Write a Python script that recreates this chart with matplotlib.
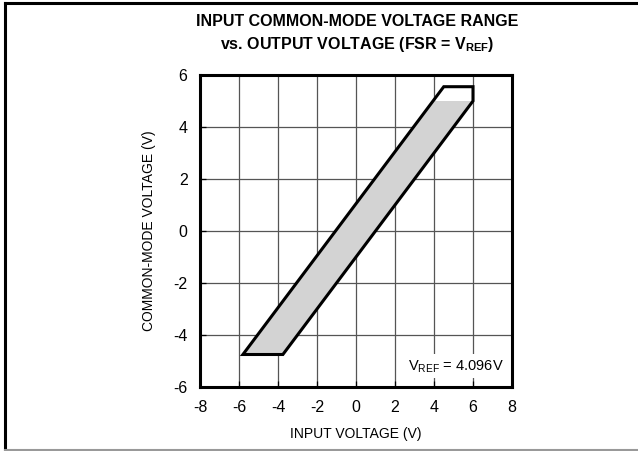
import matplotlib
matplotlib.use("Agg")
import matplotlib.pyplot as plt
from matplotlib.lines import Line2D
from matplotlib.patches import Polygon

plt.rcParams['font.family'] = ['Liberation Sans', 'DejaVu Sans']
plt.rcParams['axes.unicode_minus'] = False
plt.rcParams['mathtext.fontset'] = 'custom'
plt.rcParams['mathtext.rm'] = 'Liberation Sans'
plt.rcParams['mathtext.bf'] = 'Liberation Sans:bold'

# outline of the allowed common-mode region (V)
outline_x = [-5.8, -3.75, 6.0, 6.0, 4.5]
outline_y = [-4.75, -4.75, 5.0, 5.55, 5.55]
# shaded part
fill_x = [-5.8, -3.75, 6.0, 4.0]
fill_y = [-4.75, -4.75, 5.0, 5.0]

xticks = [-8, -6, -4, -2, 0, 2, 4, 6, 8]
yticks = [-6, -4, -2, 0, 2, 4, 6]

fig = plt.figure(figsize=(6.38, 4.51), dpi=100)
ax = fig.add_axes([200 / 638, 1 - 387 / 451, 312 / 638, 312 / 451])

ax.set_xlim(-8, 8)
ax.set_ylim(-6, 6)
ax.set_xticks(xticks)
ax.set_yticks(yticks)
ax.grid(True, color='#555555', linewidth=0.9)
ax.set_axisbelow(True)
ax.tick_params(direction='in', length=4, width=0.9, color='black', labelsize=11.5, pad=9)
for s in ax.spines.values():
    s.set_linewidth(2.2)

ax.add_patch(Polygon(list(zip(fill_x, fill_y)), closed=True, facecolor='#d3d3d3',
                     edgecolor='none', zorder=2))
ax.add_patch(Polygon(list(zip(outline_x, outline_y)), closed=True, facecolor='none',
                     edgecolor='black', linewidth=2.2, joinstyle='miter', zorder=3))

ax.set_xlabel('INPUT VOLTAGE (V)', fontsize=10, labelpad=9)
ax.set_ylabel('COMMON-MODE VOLTAGE (V)', fontsize=10, labelpad=12)

ax.text(0.975, 0.04, r'V$_{\mathrm{REF}}$ = 4.096V', transform=ax.transAxes,
        ha='right', va='bottom', fontsize=10.5, zorder=4,
        bbox=dict(facecolor='white', edgecolor='none', pad=2.5))

fig.text(357 / 638, 1 - 22 / 451, 'INPUT COMMON-MODE VOLTAGE RANGE',
         ha='center', va='center', fontsize=11.5, fontweight='bold')
fig.text(357 / 638, 1 - 45 / 451, r'vs. OUTPUT VOLTAGE (FSR = V$_{\mathbf{REF}}$)',
         ha='center', va='center', fontsize=11.5, fontweight='bold')

# outer frame
fig.add_artist(Line2D([5 / 638, 1], [1 - 3 / 451, 1 - 3 / 451], transform=fig.transFigure,
                      color='black', linewidth=2.2))
fig.add_artist(Line2D([5 / 638, 5 / 638], [1 - 3 / 451, 1 / 451], transform=fig.transFigure,
                      color='black', linewidth=2.2))
fig.add_artist(Line2D([5 / 638, 1], [1 / 451, 1 / 451], transform=fig.transFigure,
                      color='#999999', linewidth=1.5))

fig.savefig('out.png', dpi=100)
